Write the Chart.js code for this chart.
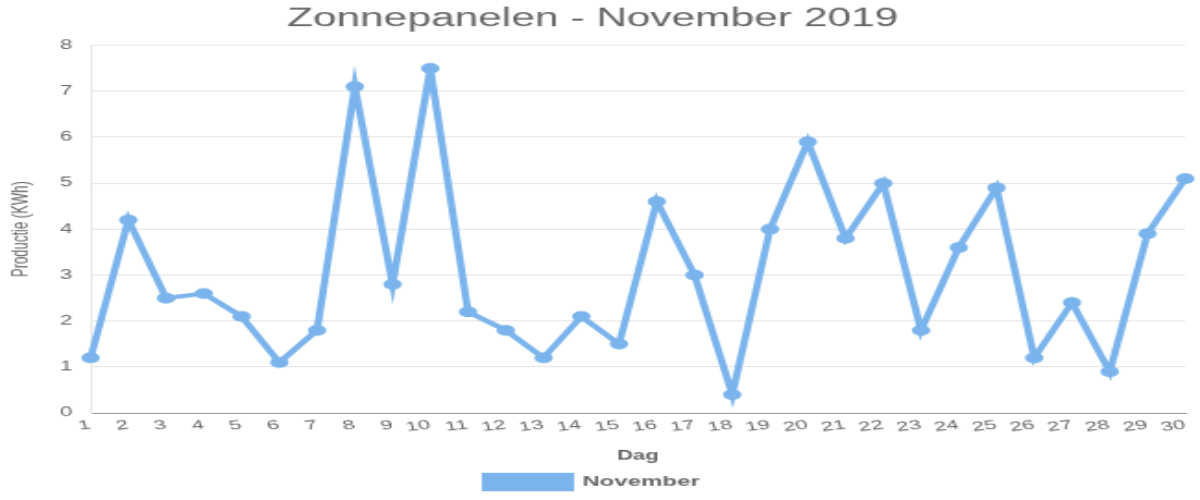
<!DOCTYPE html>
<html>
<head>
<meta charset="utf-8">
<script src="https://cdn.jsdelivr.net/npm/chart.js@4"></script>
<style>
  html, body { margin: 0; padding: 0; background: #fff; }
  #zonChart { display: block; width: 1200px; height: 500px; }
</style>
</head>
<body>
<canvas id="zonChart" width="650" height="459" style="width:1200px;height:500px"></canvas>
<script>
// dagen van november
const days = ['1', '2', '3', '4', '5', '6', '7', '8', '9', '10',
              '11', '12', '13', '14', '15', '16', '17', '18', '19', '20',
              '21', '22', '23', '24', '25', '26', '27', '28', '29', '30'];
// productie per dag in KWh
const production = [1.2, 4.2, 2.5, 2.6, 2.1, 1.1, 1.8, 7.1, 2.8, 7.5,
                    2.2, 1.8, 1.2, 2.1, 1.5, 4.6, 3.0, 0.4, 4.0, 5.9,
                    3.8, 5.0, 1.8, 3.6, 4.9, 1.2, 2.4, 0.9, 3.9, 5.1];
const seriesLabel = 'November';
const chartTitle = 'Zonnepanelen - November 2019';

Chart.defaults.font.family = 'Arial, "Liberation Sans", Helvetica, sans-serif';
Chart.defaults.color = '#666';

const ctx = document.getElementById('zonChart').getContext('2d');
const zonChart = new Chart(ctx, {
    type: 'line',
    data: {
        labels: days,
        datasets: [{
            label: seriesLabel,
            data: production,
            borderColor: '#7bb4ec',
            backgroundColor: '#7bb4ec',
            pointBackgroundColor: '#7bb4ec',
            pointBorderColor: '#7bb4ec',
            borderWidth: 4,
            pointRadius: 3,
            tension: 0,
            fill: false
        }]
    },
    options: {
        responsive: false,
        animation: false,
        layout: { padding: { left: 0, right: 8 } },
        plugins: {
            title: {
                display: true,
                text: chartTitle,
                font: { size: 23, weight: 'normal' },
                color: '#666',
                padding: { top: 4, bottom: 10 }
            },
            legend: {
                position: 'bottom',
                labels: {
                    boxWidth: 46,
                    boxHeight: 13,
                    font: { size: 13, weight: 'bold' },
                    color: '#666'
                }
            },
            tooltip: { enabled: false }
        },
        scales: {
            x: {
                grid: { display: false, drawTicks: false },
                border: { color: '#999' },
                ticks: { minRotation: 10, maxRotation: 10, padding: 4, font: { size: 12 } },
                title: { display: true, text: 'Dag', font: { size: 12, weight: 'bold' }, padding: { top: 8, bottom: 0 } }
            },
            y: {
                min: 0,
                max: 8,
                grid: { color: '#e6e6e6', drawTicks: false },
                border: { color: '#e6e6e6' },
                ticks: { stepSize: 1, padding: 10, font: { size: 12 } },
                title: { display: true, text: 'Productie (KWh)', font: { size: 12 }, padding: 4 }
            }
        }
    }
});
</script>
</body>
</html>
